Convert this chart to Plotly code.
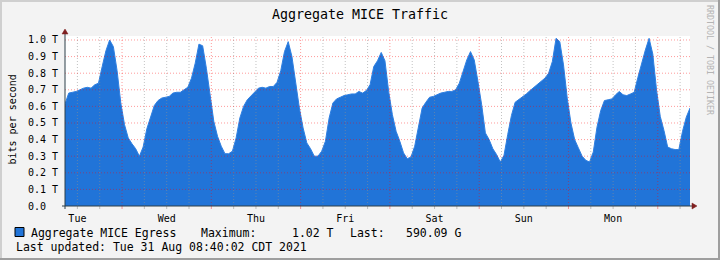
import plotly.graph_objects as go
import pandas as pd

# ---------------- data ----------------
start_time = "2021-08-24 08:40"
end_time = "2021-08-31 08:40"

# hourly samples, Tbit/s
traffic_tbps = [
    # Tue 08:40 ...
    0.615, 0.68, 0.685, 0.69, 0.70, 0.71, 0.715, 0.71, 0.73, 0.74,
    0.84, 0.935, 1.0, 0.96, 0.815, 0.62, 0.49, 0.41, 0.375, 0.345,
    0.30, 0.355, 0.465, 0.53, 0.605, 0.635, 0.65, 0.655,
    # Wed
    0.66, 0.68, 0.685, 0.685, 0.70, 0.715, 0.77, 0.86, 0.975, 0.965,
    0.83, 0.66, 0.51, 0.42, 0.36, 0.315, 0.315, 0.33, 0.41, 0.53,
    0.60, 0.64, 0.665, 0.69, 0.71, 0.715, 0.71, 0.72,
    # Thu
    0.72, 0.745, 0.815, 0.93, 0.99, 0.90, 0.73, 0.59, 0.47, 0.38,
    0.345, 0.30, 0.30, 0.33, 0.39, 0.53, 0.62, 0.645, 0.655, 0.665,
    0.67, 0.675, 0.675, 0.69, 0.68, 0.695, 0.73, 0.84,
    # Fri
    0.875, 0.925, 0.875, 0.69, 0.55, 0.45, 0.39, 0.32, 0.285, 0.295,
    0.36, 0.47, 0.59, 0.625, 0.655, 0.66, 0.67, 0.68, 0.685, 0.69,
    0.69, 0.70, 0.74, 0.815, 0.88, 0.93, 0.88, 0.75,
    # Sat
    0.61, 0.44, 0.40, 0.345, 0.31, 0.265, 0.305, 0.43, 0.545, 0.625,
    0.64, 0.655, 0.675, 0.695, 0.715, 0.735, 0.755, 0.77, 0.80, 0.87,
    1.01, 0.99, 0.85, 0.65, 0.50, 0.40, 0.35, 0.30,
    # Sun / Mon
    0.275, 0.265, 0.325, 0.475, 0.575, 0.635, 0.64, 0.645, 0.67, 0.69,
    0.67, 0.665, 0.675, 0.685, 0.775, 0.86, 0.94, 1.01, 0.915, 0.70,
    0.54, 0.455, 0.355, 0.345, 0.34, 0.34, 0.45, 0.535, 0.59,
]

day_labels = ["Tue", "Wed", "Thu", "Fri", "Sat", "Sun", "Mon"]
day_label_times = ["2021-08-24 12:00", "2021-08-25 12:00", "2021-08-26 12:00",
                   "2021-08-27 12:00", "2021-08-28 12:00", "2021-08-29 12:00",
                   "2021-08-30 12:00"]
grid_start = "2021-08-24 12:00"
grid_end = "2021-08-31 06:00"

y_ticks = [0.0, 0.1, 0.2, 0.3, 0.4, 0.5, 0.6, 0.7, 0.8, 0.9, 1.0]
y_tick_labels = ["0.0\u00a0\u00a0", "0.1 T", "0.2 T", "0.3 T", "0.4 T", "0.5 T",
                 "0.6 T", "0.7 T", "0.8 T", "0.9 T", "1.0 T"]
y_max = 1.024

legend_name = "Aggregate MICE Egress"
max_text = "1.02 T"
last_text = "590.09 G"
updated_text = "Last updated: Tue 31 Aug 08:40:02 CDT 2021"

# ---------------- style ----------------
W, H = 720, 260
L, R, T, B = 65, 30, 36, 54
PW, PH = W - L - R, H - T - B
MONO = "DejaVu Sans Mono"
BLUE = "#2174d8"
AXIS = "#2c3e48"
ARROW = "#7f1f1f"
GRID = "rgba(143,143,143,0.55)"
MGRID = "rgba(255,0,0,0.4)"


def px_x(px):
    return (px - L) / PW


def px_y(py):
    return (H - B - py) / PH


times = pd.date_range(start_time, periods=len(traffic_tbps), freq="h")
six_hours = pd.date_range(grid_start, grid_end, freq="6h")

fig = go.Figure()
fig.add_trace(go.Scatter(
    x=times, y=traffic_tbps, mode="lines", fill="tozeroy",
    fillcolor=BLUE, line=dict(color="#2f80e2", width=1),
    hoverinfo="skip", showlegend=False,
))

shapes = []
# vertical grid + ticks
for t in six_hours:
    col = MGRID if t.hour == 0 else GRID
    shapes.append(dict(type="line", xref="x", yref="paper", x0=t, x1=t,
                       y0=0, y1=1, layer="above",
                       line=dict(color=col, width=1, dash="1px,2px")))
    shapes.append(dict(type="line", xref="x", yref="paper", x0=t, x1=t,
                       y0=px_y(206), y1=px_y(209), layer="above",
                       line=dict(color=col, width=1)))
# horizontal grid
for v in y_ticks[1:]:
    shapes.append(dict(type="line", xref="paper", yref="y", x0=0, x1=1,
                       y0=v, y1=v, layer="above",
                       line=dict(color=MGRID, width=1, dash="1px,2px")))
# axes
shapes.append(dict(type="line", xref="paper", yref="paper",
                   x0=px_x(62), x1=px_x(692), y0=px_y(206), y1=px_y(206),
                   layer="above", line=dict(color=AXIS, width=1)))
shapes.append(dict(type="line", xref="paper", yref="paper",
                   x0=px_x(65), x1=px_x(65), y0=px_y(209), y1=px_y(34),
                   layer="above", line=dict(color=AXIS, width=1)))
# arrows
shapes.append(dict(type="path", xref="paper", yref="paper", layer="above",
                   path=f"M {px_x(62)},{px_y(34)} L {px_x(68)},{px_y(34)} L {px_x(65)},{px_y(29)} Z",
                   fillcolor=ARROW, line=dict(color=ARROW, width=0.5)))
shapes.append(dict(type="path", xref="paper", yref="paper", layer="above",
                   path=f"M {px_x(692)},{px_y(203)} L {px_x(692)},{px_y(209)} L {px_x(697)},{px_y(206)} Z",
                   fillcolor=ARROW, line=dict(color=ARROW, width=0.5)))
# frame bands
for (x0, x1, y0, y1, c) in [(0, 720, 0, 2, "#cfcfcf"), (0, 2, 0, 260, "#cfcfcf"),
                            (0, 720, 258, 260, "#9e9e9e"), (718, 720, 0, 260, "#9e9e9e")]:
    shapes.append(dict(type="rect", xref="paper", yref="paper",
                       x0=px_x(x0), x1=px_x(x1), y0=px_y(y0), y1=px_y(y1),
                       fillcolor=c, line=dict(width=0), layer="above"))
# legend swatch
shapes.append(dict(type="rect", xref="paper", yref="paper",
                   x0=px_x(15), x1=px_x(24), y0=px_y(227.5), y1=px_y(236.5),
                   fillcolor=BLUE, line=dict(color="black", width=1), layer="above"))


def ann(text, px, py, size, xanchor="left", angle=0, color="black"):
    return dict(text=text, x=px_x(px), y=px_y(py), xref="paper", yref="paper",
                showarrow=False, xanchor=xanchor, yanchor="middle", textangle=angle,
                borderpad=0, font=dict(family=MONO, size=size, color=color))


annotations = [
    ann("Aggregate MICE Traffic", 360, 14, 13.3, xanchor="center"),
    ann("bits per second", 11.5, 120, 10, xanchor="center", angle=-90),
    ann("RRDTOOL / TOBI OETIKER", 710, 60, 8.3, xanchor="center", angle=90, color="#b4b4b4"),
    ann(legend_name, 30, 233, 11.5),
    ann("Maximum:", 200, 233, 11.5),
    ann(max_text, 290.5, 233, 11.5),
    ann("Last:", 349, 233, 11.5),
    ann(last_text, 405, 233, 11.5),
    ann(updated_text, 15, 247, 11.5),
]

fig.update_layout(
    width=W, height=H,
    margin=dict(l=L, r=R, t=T, b=B, pad=0),
    paper_bgcolor="#f3f3f3", plot_bgcolor="white",
    shapes=shapes, annotations=annotations,
    showlegend=False,
    xaxis=dict(type="date", range=[start_time, end_time], tickmode="array",
               tickvals=day_label_times, ticktext=day_labels, ticks="",
               showgrid=False, zeroline=False, showline=False,
               ticklabelstandoff=5,
               tickfont=dict(family=MONO, size=10, color="black"), fixedrange=True),
    yaxis=dict(range=[0, y_max], tickmode="array", tickvals=y_ticks,
               ticktext=y_tick_labels, ticks="", showgrid=False, zeroline=False,
               showline=False, ticklabelstandoff=6,
               tickfont=dict(family=MONO, size=10, color="black"), fixedrange=True),
)

fig.write_html("out.html")
